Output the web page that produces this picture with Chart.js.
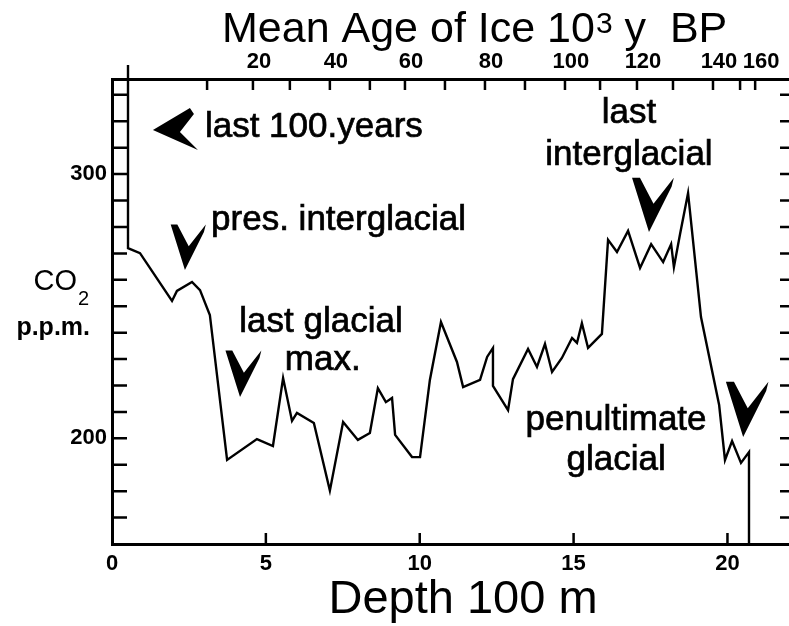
<!DOCTYPE html>
<html>
<head>
<meta charset="utf-8">
<title>CO2 ice core</title>
<script src="https://cdn.jsdelivr.net/npm/chart.js@4.4.1/dist/chart.umd.min.js"></script>
<style>
  html, body { margin: 0; padding: 0; background: #fff; }
  #wrap { width: 789px; height: 626px; position: relative; }
</style>
</head>
<body>
<div id="wrap"><canvas id="co2Chart"></canvas></div>
<script>
// Depth in 100 m, CO2 in p.p.m.
const depth = [0.52, 0.52, 0.91, 1.95, 2.11, 2.60, 2.86, 3.18, 3.74, 4.71,
  5.23, 5.56, 5.85, 6.01, 6.56, 7.08, 7.51, 7.99, 8.38, 8.64,
  8.90, 9.10, 9.20, 9.75, 10.01, 10.33, 10.69, 11.21, 11.41, 11.96,
  12.19, 12.38, 12.38, 12.87, 13.03, 13.52, 13.81, 14.07, 14.30, 14.62,
  14.95, 15.11, 15.27, 15.47, 15.92, 16.12, 16.41, 16.77, 17.16, 17.52,
  17.91, 18.17, 18.26, 18.46, 18.72, 19.14, 19.73, 19.92, 20.15, 20.44,
  20.70, 20.70];
const co2 = [341.3, 272.0, 270.1, 252.0, 255.8, 259.2, 256.1, 246.7, 191.8, 199.7,
  197.1, 222.8, 206.6, 209.6, 205.8, 180.2, 206.2, 199.4, 202.0, 219.0,
  213.7, 215.3, 201.3, 192.9, 192.9, 222.1, 244.0, 228.9, 219.4, 222.1,
  230.8, 234.2, 219.8, 210.7, 222.4, 233.8, 227.0, 235.7, 225.1, 230.4,
  238.0, 236.1, 243.6, 234.2, 239.5, 275.1, 270.5, 278.5, 264.5, 273.5,
  266.7, 273.5, 264.8, 277.3, 292.8, 245.9, 212.6, 191.8, 199.0, 190.7,
  194.8, 160.0];

// bottom axis
const depthTicks = [0, 5, 10, 15, 20];
// top axis: mean age of ice (10^3 y BP) and the depth where each tick sits
const ageTicks = [10, 20, 30, 40, 50, 60, 70, 80, 90, 100, 110, 120, 130, 140, 150, 160];
const ageTickDepth = [3.09, 4.58, 5.78, 7.08, 8.38, 9.52, 10.82, 12.12, 13.42, 14.72,
  15.86, 17.06, 18.23, 19.53, 20.41, 20.90];
const ageLabelled = [20, 40, 60, 80, 100, 120, 140, 160];
// left axis
const co2Ticks = [170, 180, 190, 200, 210, 220, 230, 240, 250, 260, 270, 280, 290, 300, 310, 320, 330];
const co2Labelled = [200, 300];

// annotations, placed in data units (depth, ppm)
const notes = [
  { text: 'last 100.years', x: 3.02, y: 314.0, align: 'left' },
  { text: 'pres. interglacial', x: 3.22, y: 278.9, align: 'left' },
  { text: 'last glacial', x: 6.79, y: 240.2, align: 'center' },
  { text: 'max.', x: 6.85, y: 225.9, align: 'center' },
  { text: 'last', x: 16.80, y: 319.3, align: 'center' },
  { text: 'interglacial', x: 16.80, y: 303.4, align: 'center' },
  { text: 'penultimate', x: 16.38, y: 203.1, align: 'center' },
  { text: 'glacial', x: 16.38, y: 188.0, align: 'center' }
];
// arrow tips, data units
const arrows = [
  { x: 1.33, y: 316.7, dir: 'left', size: 1 },
  { x: 2.37, y: 263.7, dir: 'down', size: 0.95 },
  { x: 4.16, y: 215.6, dir: 'down', size: 0.97 },
  { x: 17.45, y: 278.1, dir: 'down', size: 1.13 },
  { x: 20.51, y: 200.5, dir: 'down', size: 1.15 }
];

const FONT = "'Liberation Sans', Arial, Helvetica, sans-serif";

const decorations = {
  id: 'decorations',
  afterDraw(chart) {
    const { ctx, chartArea: a, scales } = chart;
    const sx = scales.x, sy = scales.y, st = scales.xTop;
    ctx.save();

    // inward tick marks
    ctx.strokeStyle = '#000';
    ctx.lineWidth = 2.5;
    ctx.beginPath();
    sy.ticks.forEach(t => {
      const py = sy.getPixelForValue(t.value);
      ctx.moveTo(a.left, py); ctx.lineTo(a.left + 15, py);
      ctx.moveTo(a.right - 9, py); ctx.lineTo(a.right, py);
    });
    sx.ticks.forEach(t => {
      if (t.value === 0) return;
      const px = sx.getPixelForValue(t.value);
      ctx.moveTo(px, a.bottom); ctx.lineTo(px, a.bottom - 11);
    });
    st.ticks.forEach(t => {
      const px = st.getPixelForValue(t.value);
      ctx.moveTo(px, a.top); ctx.lineTo(px, a.top + 11);
    });
    ctx.stroke();

    // arrowheads
    ctx.fillStyle = '#000';
    arrows.forEach(ar => {
      const px = sx.getPixelForValue(ar.x), py = sy.getPixelForValue(ar.y);
      const s = ar.size;
      ctx.beginPath();
      if (ar.dir === 'down') {
        ctx.moveTo(px, py);
        ctx.lineTo(px - 15 * s, py - 48 * s);
        ctx.lineTo(px - 8 * s, py - 48 * s);
        ctx.lineTo(px + 4 * s, py - 25 * s);
        ctx.lineTo(px + 22 * s, py - 48 * s);
        ctx.lineTo(px + 20 * s, py - 40 * s);
      } else {
        ctx.moveTo(px, py);
        ctx.lineTo(px + 37 * s, py - 22 * s);
        ctx.lineTo(px + 41 * s, py - 16 * s);
        ctx.lineTo(px + 27 * s, py + 2 * s);
        ctx.lineTo(px + 45 * s, py + 20 * s);
      }
      ctx.closePath();
      ctx.fill();
    });

    // annotation text, slightly heavier than the regular face
    ctx.font = '35px ' + FONT;
    ctx.textBaseline = 'alphabetic';
    ctx.lineWidth = 0.7;
    notes.forEach(n => {
      ctx.textAlign = n.align;
      const px = sx.getPixelForValue(n.x), py = sy.getPixelForValue(n.y);
      ctx.fillText(n.text, px, py);
      ctx.strokeText(n.text, px, py);
    });

    // y axis label  CO2 / p.p.m.
    ctx.textAlign = 'right';
    ctx.font = '29px ' + FONT;
    const coRight = a.left - 35;
    ctx.fillText('CO', coRight, sy.getPixelForValue(256.1));
    ctx.font = '20px ' + FONT;
    ctx.textAlign = 'left';
    ctx.fillText('2', coRight + 1, sy.getPixelForValue(250.6));
    ctx.textAlign = 'right';
    ctx.font = 'bold 25px ' + FONT;
    ctx.fillText('p.p.m.', a.left - 22, sy.getPixelForValue(239.1));

    // top title with superscript
    ctx.textAlign = 'left';
    ctx.font = '43px ' + FONT;
    let tx = 222;
    const part1 = 'Mean Age of Ice 10';
    ctx.fillText(part1, tx, 42);
    tx += ctx.measureText(part1).width + 1;
    ctx.font = '30px ' + FONT;
    ctx.fillText('3', tx, 33);
    tx += ctx.measureText('3').width;
    ctx.font = '43px ' + FONT;
    ctx.fillText(' y  BP', tx, 42);

    // bottom title
    ctx.textAlign = 'center';
    ctx.font = '47px ' + FONT;
    ctx.fillText('Depth 100 m', 463, 613);

    ctx.restore();
  }
};

const tickFont = { family: FONT, size: 22, weight: 'bold' };

new Chart(document.getElementById('co2Chart'), {
  type: 'line',
  data: {
    datasets: [{
      data: depth.map((d, i) => ({ x: d, y: co2[i] })),
      borderColor: '#000',
      borderWidth: 2.4,
      pointRadius: 0,
      tension: 0,
      fill: false,
      clip: false
    }]
  },
  options: {
    responsive: true,
    maintainAspectRatio: false,
    animation: false,
    layout: { padding: 0 },
    plugins: {
      legend: { display: false },
      tooltip: { enabled: false }
    },
    scales: {
      x: {
        type: 'linear', position: 'bottom', min: 0, max: 22,
        afterBuildTicks: s => { s.ticks = depthTicks.map(v => ({ value: v })); },
        afterFit: s => { s.height = 82; },
        ticks: { font: tickFont, color: '#000', padding: 7, maxRotation: 0, autoSkip: false },
        grid: { display: false, drawTicks: false },
        border: { display: true, color: '#000', width: 3 }
      },
      xTop: {
        type: 'linear', position: 'top', min: 0, max: 22,
        afterBuildTicks: s => { s.ticks = ageTickDepth.map(v => ({ value: v })); },
        afterFit: s => { s.height = 79; },
        ticks: {
          font: tickFont, color: '#000', padding: 4, maxRotation: 0, autoSkip: false, labelOffset: 6,
          callback: (v, i) => ageLabelled.includes(ageTicks[i]) ? String(ageTicks[i]) : ''
        },
        grid: { display: false, drawTicks: false },
        border: { display: true, color: '#000', width: 3 }
      },
      y: {
        type: 'linear', position: 'left', min: 160, max: 336,
        afterBuildTicks: s => { s.ticks = co2Ticks.map(v => ({ value: v })); },
        afterFit: s => { s.width = 112; },
        ticks: {
          font: tickFont, color: '#000', padding: 5, autoSkip: false,
          callback: v => co2Labelled.includes(v) ? String(v) : ''
        },
        grid: { display: false, drawTicks: false },
        border: { display: true, color: '#000', width: 3 }
      }
    }
  },
  plugins: [decorations]
});
</script>
</body>
</html>
